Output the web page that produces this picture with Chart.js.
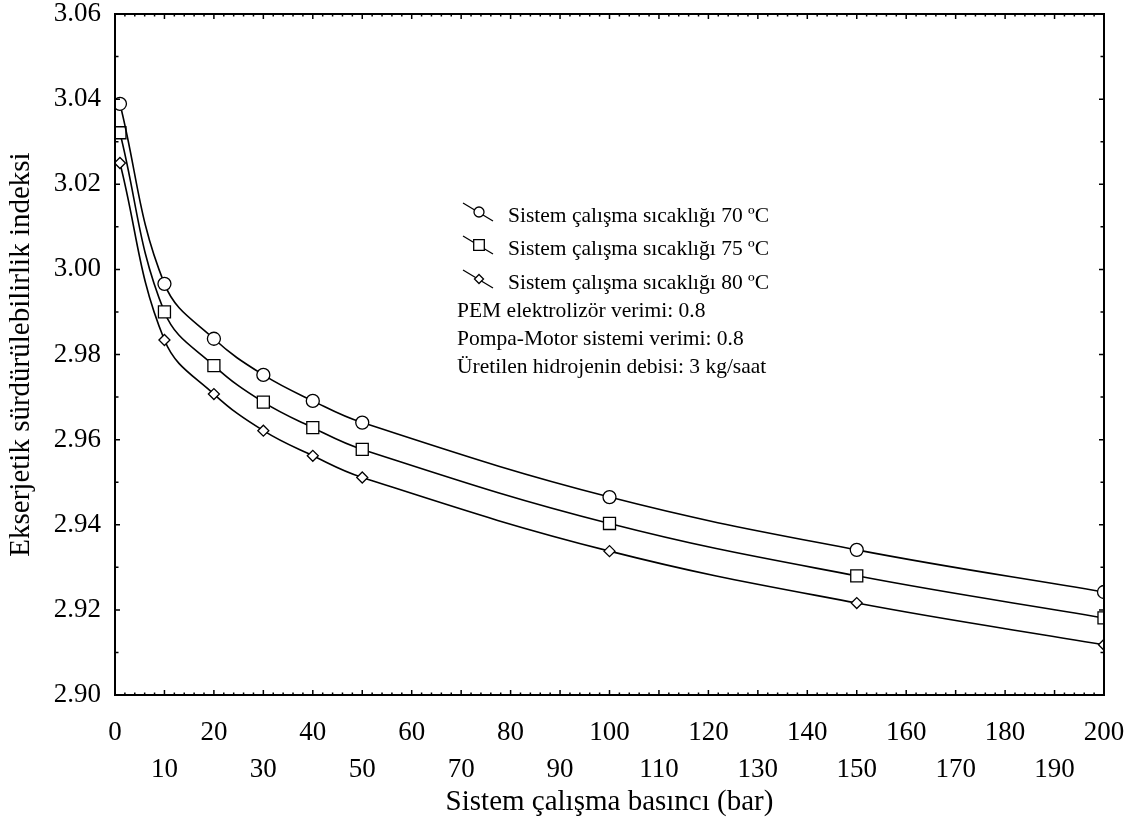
<!DOCTYPE html>
<html lang="tr">
<head>
    <meta charset="UTF-8">
    <title>Ekserjetik sürdürülebilirlik indeksi</title>
    <script src="https://cdn.jsdelivr.net/npm/chart.js"></script>
    <style>
        html, body { margin: 0; padding: 0; background: #fff; }
        #wrap { width: 1140px; height: 822px; }
    </style>
</head>
<body>
<div id="wrap"><canvas id="exChart" width="1140" height="822"></canvas></div>
<script>
    // basınç (bar)
    const pressures = [1, 10, 20, 30, 40, 50, 100, 150, 200];
    // ekserjetik sürdürülebilirlik indeksi, sıcaklığa göre
    const temp70 = [3.0389, 2.9966, 2.9837, 2.9752, 2.9691, 2.9640, 2.9465, 2.9341, 2.9242];
    const temp75 = [3.0321, 2.9900, 2.9774, 2.9688, 2.9628, 2.9577, 2.9403, 2.9280, 2.9181];
    const temp80 = [3.0250, 2.9834, 2.9707, 2.9621, 2.9562, 2.9511, 2.9338, 2.9216, 2.9118];
    const seriesLabels = ["Sistem çalışma sıcaklığı 70 ºC", "Sistem çalışma sıcaklığı 75 ºC", "Sistem çalışma sıcaklığı 80 ºC"];
    const noteLines = ["PEM elektrolizör verimi: 0.8", "Pompa-Motor sistemi verimi: 0.8", "Üretilen hidrojenin debisi: 3 kg/saat"];

    const serif = "'Liberation Serif', 'Times New Roman', serif";

    function toPoints(ys) {
        return pressures.map((p, i) => ({ x: p, y: ys[i] }));
    }

    function makeSet(label, ys, style, radius) {
        return {
            label: label,
            data: toPoints(ys),
            borderColor: "#000",
            borderWidth: 1.6,
            backgroundColor: "#fff",
            pointStyle: style,
            pointRadius: radius,
            pointBorderWidth: 1.3,
            pointBorderColor: "#000",
            pointBackgroundColor: "#fff",
            tension: 0.4,
            fill: false
        };
    }

    function drawMarker(ctx, style, r, x, y) {
        ctx.save();
        ctx.beginPath();
        if (style === "circle") {
            ctx.arc(x, y, r, 0, Math.PI * 2);
        } else if (style === "rect") {
            const s = r * Math.SQRT1_2;
            ctx.rect(x - s, y - s, 2 * s, 2 * s);
        } else {
            ctx.moveTo(x, y - r); ctx.lineTo(x + r, y); ctx.lineTo(x, y + r); ctx.lineTo(x - r, y); ctx.closePath();
        }
        ctx.fillStyle = "#fff";
        ctx.fill();
        ctx.lineWidth = 1.3;
        ctx.strokeStyle = "#000";
        ctx.stroke();
        ctx.restore();
    }

    // çerçeve, içe dönük tikler ve açıklama kutusu
    const framePlugin = {
        id: "frame",
        afterDraw(chart) {
            const ctx = chart.ctx;
            const a = chart.chartArea;
            const xs = chart.scales.x, ys = chart.scales.y;
            ctx.save();
            ctx.strokeStyle = "#000";
            ctx.lineWidth = 1.5;
            ctx.beginPath();
            for (let v = 0; v <= 200; v += 2) {
                const px = xs.getPixelForValue(v);
                const len = v % 10 === 0 ? 5 : 2.5;
                ctx.moveTo(px, a.bottom); ctx.lineTo(px, a.bottom - len);
                ctx.moveTo(px, a.top); ctx.lineTo(px, a.top + len);
            }
            for (let k = 0; k <= 16; k++) {
                const py = ys.getPixelForValue(2.90 + k * 0.01);
                const len = k % 2 === 0 ? 5 : 3.5;
                ctx.moveTo(a.left, py); ctx.lineTo(a.left + len, py);
                ctx.moveTo(a.right, py); ctx.lineTo(a.right - len, py);
            }
            ctx.stroke();
            ctx.lineWidth = 2;
            ctx.strokeRect(a.left, a.top, a.right - a.left, a.bottom - a.top);

            // açıklama
            const sets = chart.data.datasets;
            const legY = [212, 245, 279];
            ctx.font = "21.5px " + serif;
            ctx.fillStyle = "#000";
            ctx.textBaseline = "middle";
            ctx.textAlign = "left";
            sets.forEach((ds, i) => {
                const cy = legY[i];
                ctx.lineWidth = 1.3;
                ctx.beginPath();
                ctx.moveTo(463, cy - 9); ctx.lineTo(493, cy + 9);
                ctx.stroke();
                drawMarker(ctx, ds.pointStyle, ds.pointStyle === "circle" ? 5 : (ds.pointStyle === "rect" ? 7.5 : 4.5), 479, cy);
                ctx.fillText(ds.label, 508, cy + 4);
            });
            const noteY = [311, 339, 367];
            noteLines.forEach((t, i) => ctx.fillText(t, 457, noteY[i]));
            ctx.restore();
        }
    };

    const ctx = document.getElementById("exChart").getContext("2d");
    new Chart(ctx, {
        type: "line",
        data: {
            datasets: [
                makeSet(seriesLabels[0], temp70, "circle", 6.5),
                makeSet(seriesLabels[1], temp75, "rect", 8.5),
                makeSet(seriesLabels[2], temp80, "rectRot", 5.5)
            ]
        },
        options: {
            responsive: false,
            animation: false,
            layout: { padding: { top: 14, right: 36, left: 0, bottom: 0 } },
            plugins: {
                legend: { display: false },
                tooltip: { enabled: false }
            },
            scales: {
                x: {
                    type: "linear",
                    min: 0,
                    max: 200,
                    grid: { display: false, drawTicks: false },
                    border: { display: false },
                    afterFit(scale) {
                        scale.height = 127;
                        scale.paddingLeft = 0;
                        scale.paddingRight = 0;
                    },
                    ticks: {
                        stepSize: 10,
                        padding: 19,
                        color: "#000",
                        maxRotation: 0,
                        autoSkip: false,
                        font: { family: serif, size: 27, lineHeight: 1.37 },
                        callback(v) {
                            return v % 20 === 0 ? [String(v), ""] : ["", String(v)];
                        }
                    },
                    title: {
                        display: true,
                        text: "Sistem çalışma basıncı (bar)",
                        color: "#000",
                        padding: { top: 0, bottom: 2 },
                        font: { family: serif, size: 29 }
                    }
                },
                y: {
                    min: 2.90,
                    max: 3.06,
                    grid: { display: false, drawTicks: false },
                    border: { display: false },
                    afterFit(scale) {
                        scale.width = 115;
                        scale.paddingTop = 0;
                        scale.paddingBottom = 0;
                    },
                    ticks: {
                        stepSize: 0.02,
                        padding: 14,
                        color: "#000",
                        font: { family: serif, size: 27 },
                        callback(v) { return v.toFixed(2); }
                    },
                    title: {
                        display: true,
                        text: "Ekserjetik sürdürülebilirlik indeksi",
                        color: "#000",
                        padding: { top: 4, bottom: 0 },
                        font: { family: serif, size: 29 }
                    }
                }
            }
        },
        plugins: [framePlugin]
    });
</script>
</body>
</html>
